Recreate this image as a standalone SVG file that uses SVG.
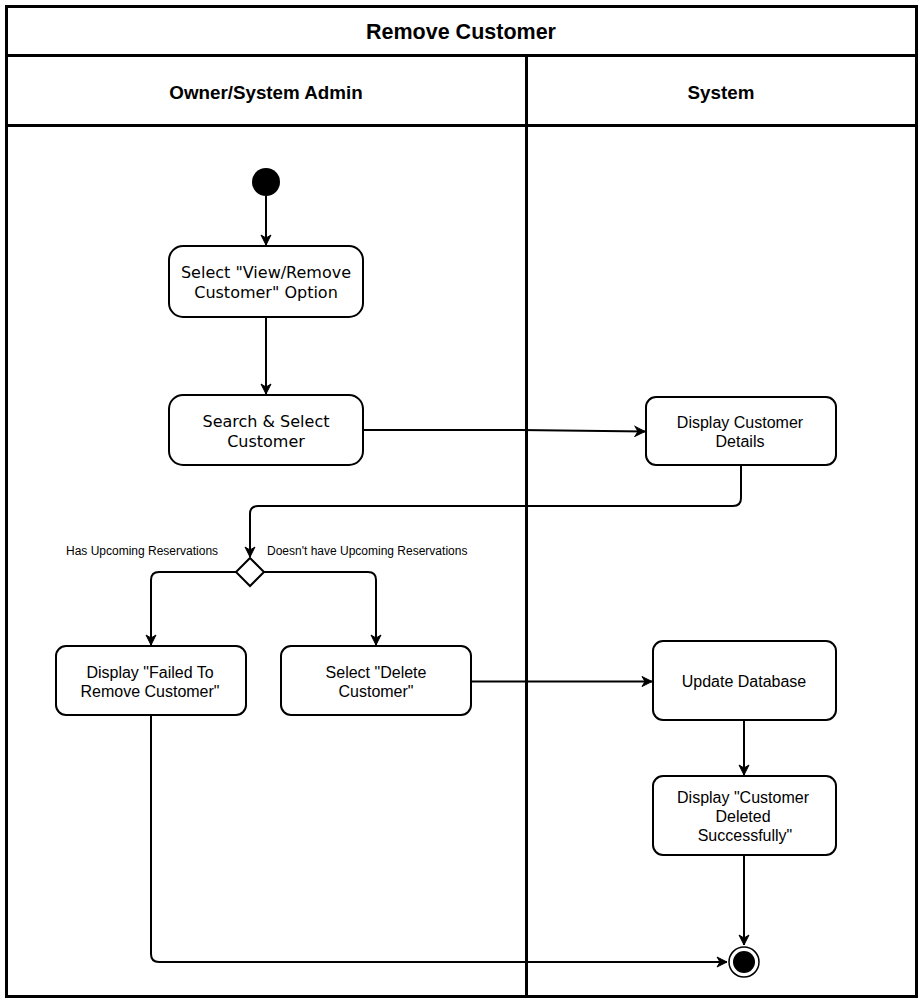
<svg xmlns="http://www.w3.org/2000/svg" width="923" height="1003" viewBox="0 0 923 1003">
  <defs>
    <marker id="arrow" viewBox="0 0 12 12" refX="11" refY="6" markerWidth="12" markerHeight="12" markerUnits="userSpaceOnUse" orient="auto">
      <path d="M1,1 L11,6 L1,11 L4,6 Z" fill="#000" stroke="#000" stroke-width="1" stroke-linejoin="miter"/>
    </marker>
  </defs>
  <style>
    .frame { fill: #fff; stroke: #000; stroke-width: 3; }
    .lane { fill: none; stroke: #000; stroke-width: 3; }
    .act { fill: #fff; stroke: #000; stroke-width: 2; }
    .edge { fill: none; stroke: #000; stroke-width: 2; stroke-linejoin: round; }
    .title { font-family: "Liberation Sans", Arial, sans-serif; font-weight: bold; font-size: 21.5px; text-anchor: middle; }
    .head { font-family: "Liberation Sans", Arial, sans-serif; font-weight: bold; font-size: 18.8px; text-anchor: middle; }
    .t { font-family: "Liberation Sans", Arial, sans-serif; font-size: 16px; text-anchor: middle; }
    .tv { font-family: "DejaVu Sans", Verdana, sans-serif; font-size: 16px; text-anchor: middle; }
    .lbl { font-family: "Liberation Sans", Arial, sans-serif; font-size: 12px; }
  </style>

  <rect x="0" y="0" width="923" height="1003" fill="#fff"/>

  <!-- pool and swimlanes -->
  <g id="pool">
    <rect class="frame" x="6.5" y="6.5" width="910" height="990"/>
    <line class="lane" x1="6.5" y1="55.5" x2="916.5" y2="55.5"/>
    <line class="lane" x1="6.5" y1="125.5" x2="916.5" y2="125.5"/>
    <line class="lane" x1="526.5" y1="55.5" x2="526.5" y2="996.5"/>
    <text class="title" x="461" y="38.5">Remove Customer</text>
    <text class="head" x="266" y="99">Owner/System Admin</text>
    <text class="head" x="721" y="99">System</text>
  </g>

  <!-- connectors -->
  <g id="connectors">
    <path class="edge" d="M266,196 L266,245" marker-end="url(#arrow)"/>
    <path class="edge" d="M266,317 L266,394" marker-end="url(#arrow)"/>
    <path class="edge" d="M363,430 L520,430 L645,431.5" marker-end="url(#arrow)"/>
    <path class="edge" d="M741,465 L741,498 Q741,506 733,506 L258,506 Q250,506 250,514 L250,557" marker-end="url(#arrow)"/>
    <path class="edge" d="M236,572 L159,572 Q151,572 151,580 L151,645" marker-end="url(#arrow)"/>
    <path class="edge" d="M264,572 L368,572 Q376,572 376,580 L376,645" marker-end="url(#arrow)"/>
    <path class="edge" d="M471,681.5 L652,681.5" marker-end="url(#arrow)"/>
    <path class="edge" d="M744,720 L744,775" marker-end="url(#arrow)"/>
    <path class="edge" d="M744,855 L744,945" marker-end="url(#arrow)"/>
    <path class="edge" d="M151,715 L151,954 Q151,962 159,962 L727,962" marker-end="url(#arrow)"/>
    <text class="lbl" x="66" y="555">Has Upcoming Reservations</text>
    <text class="lbl" x="267" y="555">Doesn't have Upcoming Reservations</text>
  </g>

  <g id="start">
    <circle cx="266" cy="182" r="14" fill="#000"/>
  </g>

  <g id="select-view-remove">
    <rect class="act" x="169" y="246" width="194" height="71" rx="14"/>
    <text class="tv" x="266" y="278">Select "View/Remove</text>
    <text class="tv" x="266" y="298">Customer" Option</text>
  </g>

  <g id="search-select">
    <rect class="act" x="169" y="395" width="194" height="70" rx="14"/>
    <text class="tv" x="266" y="427">Search &amp; Select</text>
    <text class="tv" x="266" y="447">Customer</text>
  </g>

  <g id="display-details">
    <rect class="act" x="646" y="397" width="190" height="68" rx="10"/>
    <text class="t" x="740" y="428">Display Customer</text>
    <text class="t" x="740" y="447">Details</text>
  </g>

  <g id="decision">
    <path class="act" d="M250,558 L264,572 L250,586 L236,572 Z"/>
  </g>

  <g id="display-failed">
    <rect class="act" x="56" y="646" width="190" height="69" rx="10"/>
    <text class="t" x="150" y="678">Display "Failed To</text>
    <text class="t" x="150" y="697">Remove Customer"</text>
  </g>

  <g id="select-delete">
    <rect class="act" x="281" y="646" width="190" height="69" rx="10"/>
    <text class="t" x="376" y="678">Select "Delete</text>
    <text class="t" x="376" y="697">Customer"</text>
  </g>

  <g id="update-database">
    <rect class="act" x="653" y="641" width="183" height="79" rx="10"/>
    <text class="t" x="744" y="687">Update Database</text>
  </g>

  <g id="display-deleted">
    <rect class="act" x="653" y="776" width="183" height="79" rx="10"/>
    <text class="t" x="743" y="803">Display "Customer</text>
    <text class="t" x="743" y="822">Deleted</text>
    <text class="t" x="745" y="841">Successfully"</text>
  </g>

  <g id="end">
    <circle cx="744" cy="962" r="15" fill="#fff" stroke="#000" stroke-width="1.5"/>
    <circle cx="744" cy="962" r="11" fill="#000"/>
  </g>
</svg>
